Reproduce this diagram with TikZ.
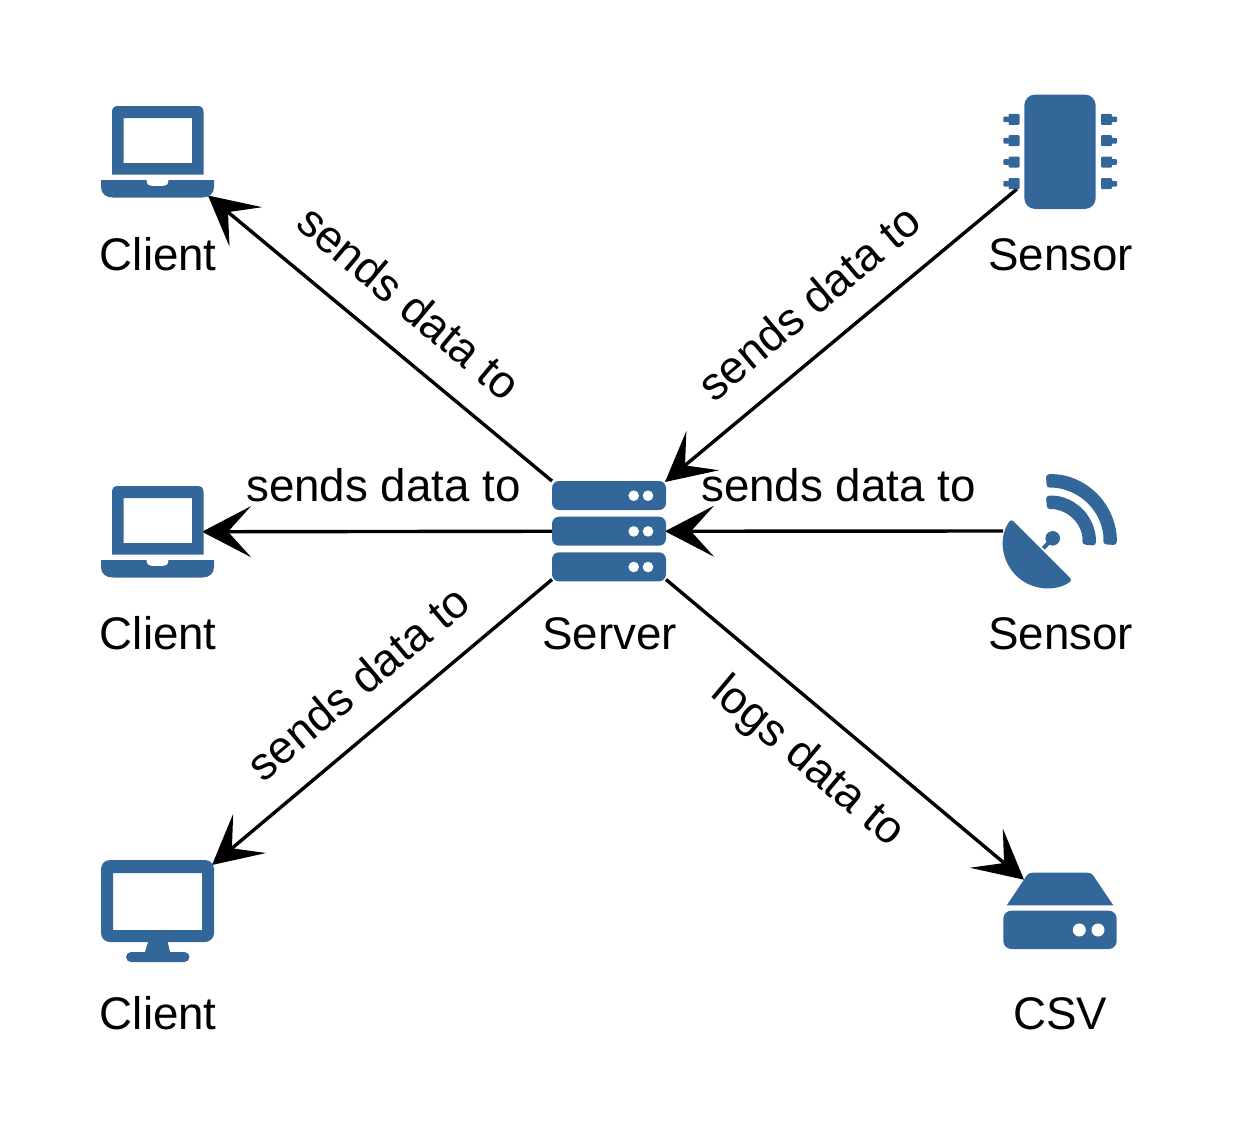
\documentclass[tikz,border=0pt]{standalone}
\usepackage{fontspec}
\setmainfont{Liberation Sans}
\usetikzlibrary{arrows.meta}
\definecolor{iconblue}{HTML}{336699}
\tikzset{
  box/.style={rectangle,anchor=north west,inner sep=0pt,outer sep=0pt,minimum width=#1},
  lbl/.style={inner sep=0pt,text height=33pt,text depth=10pt,font=\fontsize{45.7}{50}\selectfont},
  conn/.style={line width=3.4pt,-{Stealth[length=49pt,width=51pt,inset=23pt]}},
  pics/laptop/.style={code={
    \fill[iconblue,even odd rule] (11,68.5) -- (11,6) .. controls (11,2) and (13,0) .. (17,0) -- (96.5,0) .. controls (100.5,0) and (102.5,2) .. (102.5,6) -- (102.5,68.5) -- cycle (22.5,12) rectangle (91,57);
    \fill[iconblue] (0,74) -- (45.5,74) .. controls (45.5,79) and (48,80) .. (51,80) -- (62,80) .. controls (65,80) and (67.5,79) .. (67.5,74) -- (113,74) -- (113,81) .. controls (113,88) and (108,91.5) .. (101,91.5) -- (12,91.5) .. controls (5,91.5) and (0,88) .. (0,81) -- cycle;
  }},
  pics/monitor/.style={code={
    \fill[iconblue,even odd rule] [rounded corners=9pt] (0,0) rectangle (113,82) [sharp corners] (12,13) rectangle (101,70);
    \fill[iconblue] (47.5,81) -- (66.5,81) -- (69,92) -- (44,92) -- cycle;
    \fill[iconblue,rounded corners=5pt] (25,92) rectangle (88.5,102);
  }},
  pics/chip/.style={code={
    \fill[iconblue,rounded corners=11pt] (21.3,0.5) rectangle (92.7,115);
    \foreach \y in {25.3,46.7,68,89.7} {
      \fill[iconblue,rounded corners=1pt] (5.5,\y) ++(0,-5.5) rectangle ++(11,11);
      \fill[iconblue,rounded corners=1pt] (0.3,\y) ++(0,-2.8) rectangle ++(6,5.6);
      \fill[iconblue,rounded corners=1pt] (98,\y) ++(0,-5.5) rectangle ++(11,11);
      \fill[iconblue,rounded corners=1pt] (108,\y) ++(0,-2.8) rectangle ++(6,5.6);
    }
  }},
  pics/dish/.style={code={
    \fill[iconblue,rounded corners=3pt] (8,45) arc[start angle=215,end angle=55,radius=44] -- cycle;
    \fill[iconblue] (49.7,64.3) circle[radius=7.3];
    \draw[iconblue,line width=4pt] (49.7,64.3) -- (40.3,74.3);
    \fill[iconblue,rounded corners=3pt] (42.9,0.42) arc[start angle=266.5,end angle=363.5,radius=66.7] -- (100.2,70.25) arc[start angle=363.5,end angle=266.5,radius=53.3] -- cycle;
    \fill[iconblue,rounded corners=3pt] (42.78,22.05) arc[start angle=264,end angle=366,radius=45.2] -- (79.13,70.32) arc[start angle=366,end angle=264,radius=31.8] -- cycle;
  }},
  pics/rack/.style={code={
    \fill[iconblue,rounded corners=7pt] (0,0) rectangle (114,29);
    \fill[white] (81.7,14.7) circle[radius=5.3] (96,14.7) circle[radius=5.3];
  }},
  pics/disk/.style={code={
    \fill[iconblue] (3.7,32.6) -- (24,2.5) .. controls (25.5,0.7) and (27,0) .. (30,0) -- (84,0) .. controls (87,0) and (88.5,0.7) .. (90,2.5) -- (110.3,32.6) -- cycle;
    \fill[iconblue,rounded corners=8pt] (0.3,38) rectangle (113.7,76.3);
    \fill[white] (76.3,57.3) circle[radius=6.5] (95,57.3) circle[radius=6.5];
  }}
}
\begin{document}
\begin{tikzpicture}[x=1pt,y=-1pt]
\useasboundingbox (0,0) rectangle (1233,1135);

\node[box=113pt,minimum height=91.5pt] at (101,106)(client1) {};
\node[box=113pt,minimum height=91.5pt] at (101,486)(client2) {};
\node[box=113pt,minimum height=102pt] at (101,860)(client3) {};
\node[box=114pt,minimum height=115pt] at (1003,94)(sensor1) {};
\node[box=114pt,minimum height=114pt] at (1003,474)(sensor2) {};
\node[box=114pt,minimum height=100.5pt] at (552,481)(server) {};
\node[box=114pt,minimum height=76.3pt] at (1003,872.7)(csv) {};

\draw[conn] (server.north west) -- ([shift={(-6,-2)}]client1.south east);
\draw[conn] (server.west) -- ([shift={(-12,0)}]client2.east);
\draw[conn] ([shift={(0,-2)}]server.south west) -- ([shift={(-2,5)}]client3.north east);
\draw[conn] ([shift={(14,-20)}]sensor1.south west) -- ([shift={(-1,1)}]server.north east);
\draw[conn] (sensor2.west) -- ([shift={(-1,0)}]server.east);
\draw[conn] ([shift={(0,-2)}]server.south east) -- ([shift={(21,7)}]csv.north west);

\pic at (client1.north west) {laptop};
\pic at (client2.north west) {laptop};
\pic at (client3.north west) {monitor};
\pic at (sensor1.north west) {chip};
\pic at (sensor2.north west) {dish};
\pic at (server.north west) {rack};
\pic at ([shift={(0,35.7)}]server.north west) {rack};
\pic at ([shift={(0,71.3)}]server.north west) {rack};
\pic at (csv.north west) {disk};

\node[lbl] at (158.3,258.5)(name1) {Client};
\node[lbl] at (158.3,637.5)(name2) {Client};
\node[lbl] at (158.3,1017.5)(name3) {Client};
\node[lbl] at (1060.7,258.5)(name4) {Sensor};
\node[lbl] at (1060.7,637.5)(name5) {Sensor};
\node[lbl] at (609.8,637.5)(name6) {Server};
\node[lbl] at (1060.3,1017.5)(name7) {CSV};

\node[lbl,rotate=-40] at (406.5,306)(note1) {sends data to};
\node[lbl] at (383.5,489.5)(note2) {sends data to};
\node[lbl,rotate=40] at (361,686)(note3) {sends data to};
\node[lbl,rotate=40] at (812,306)(note4) {sends data to};
\node[lbl] at (838.5,489.5)(note5) {sends data to};
\node[lbl,rotate=-40] at (807,763)(note6) {logs data to};
\end{tikzpicture}
\end{document}
